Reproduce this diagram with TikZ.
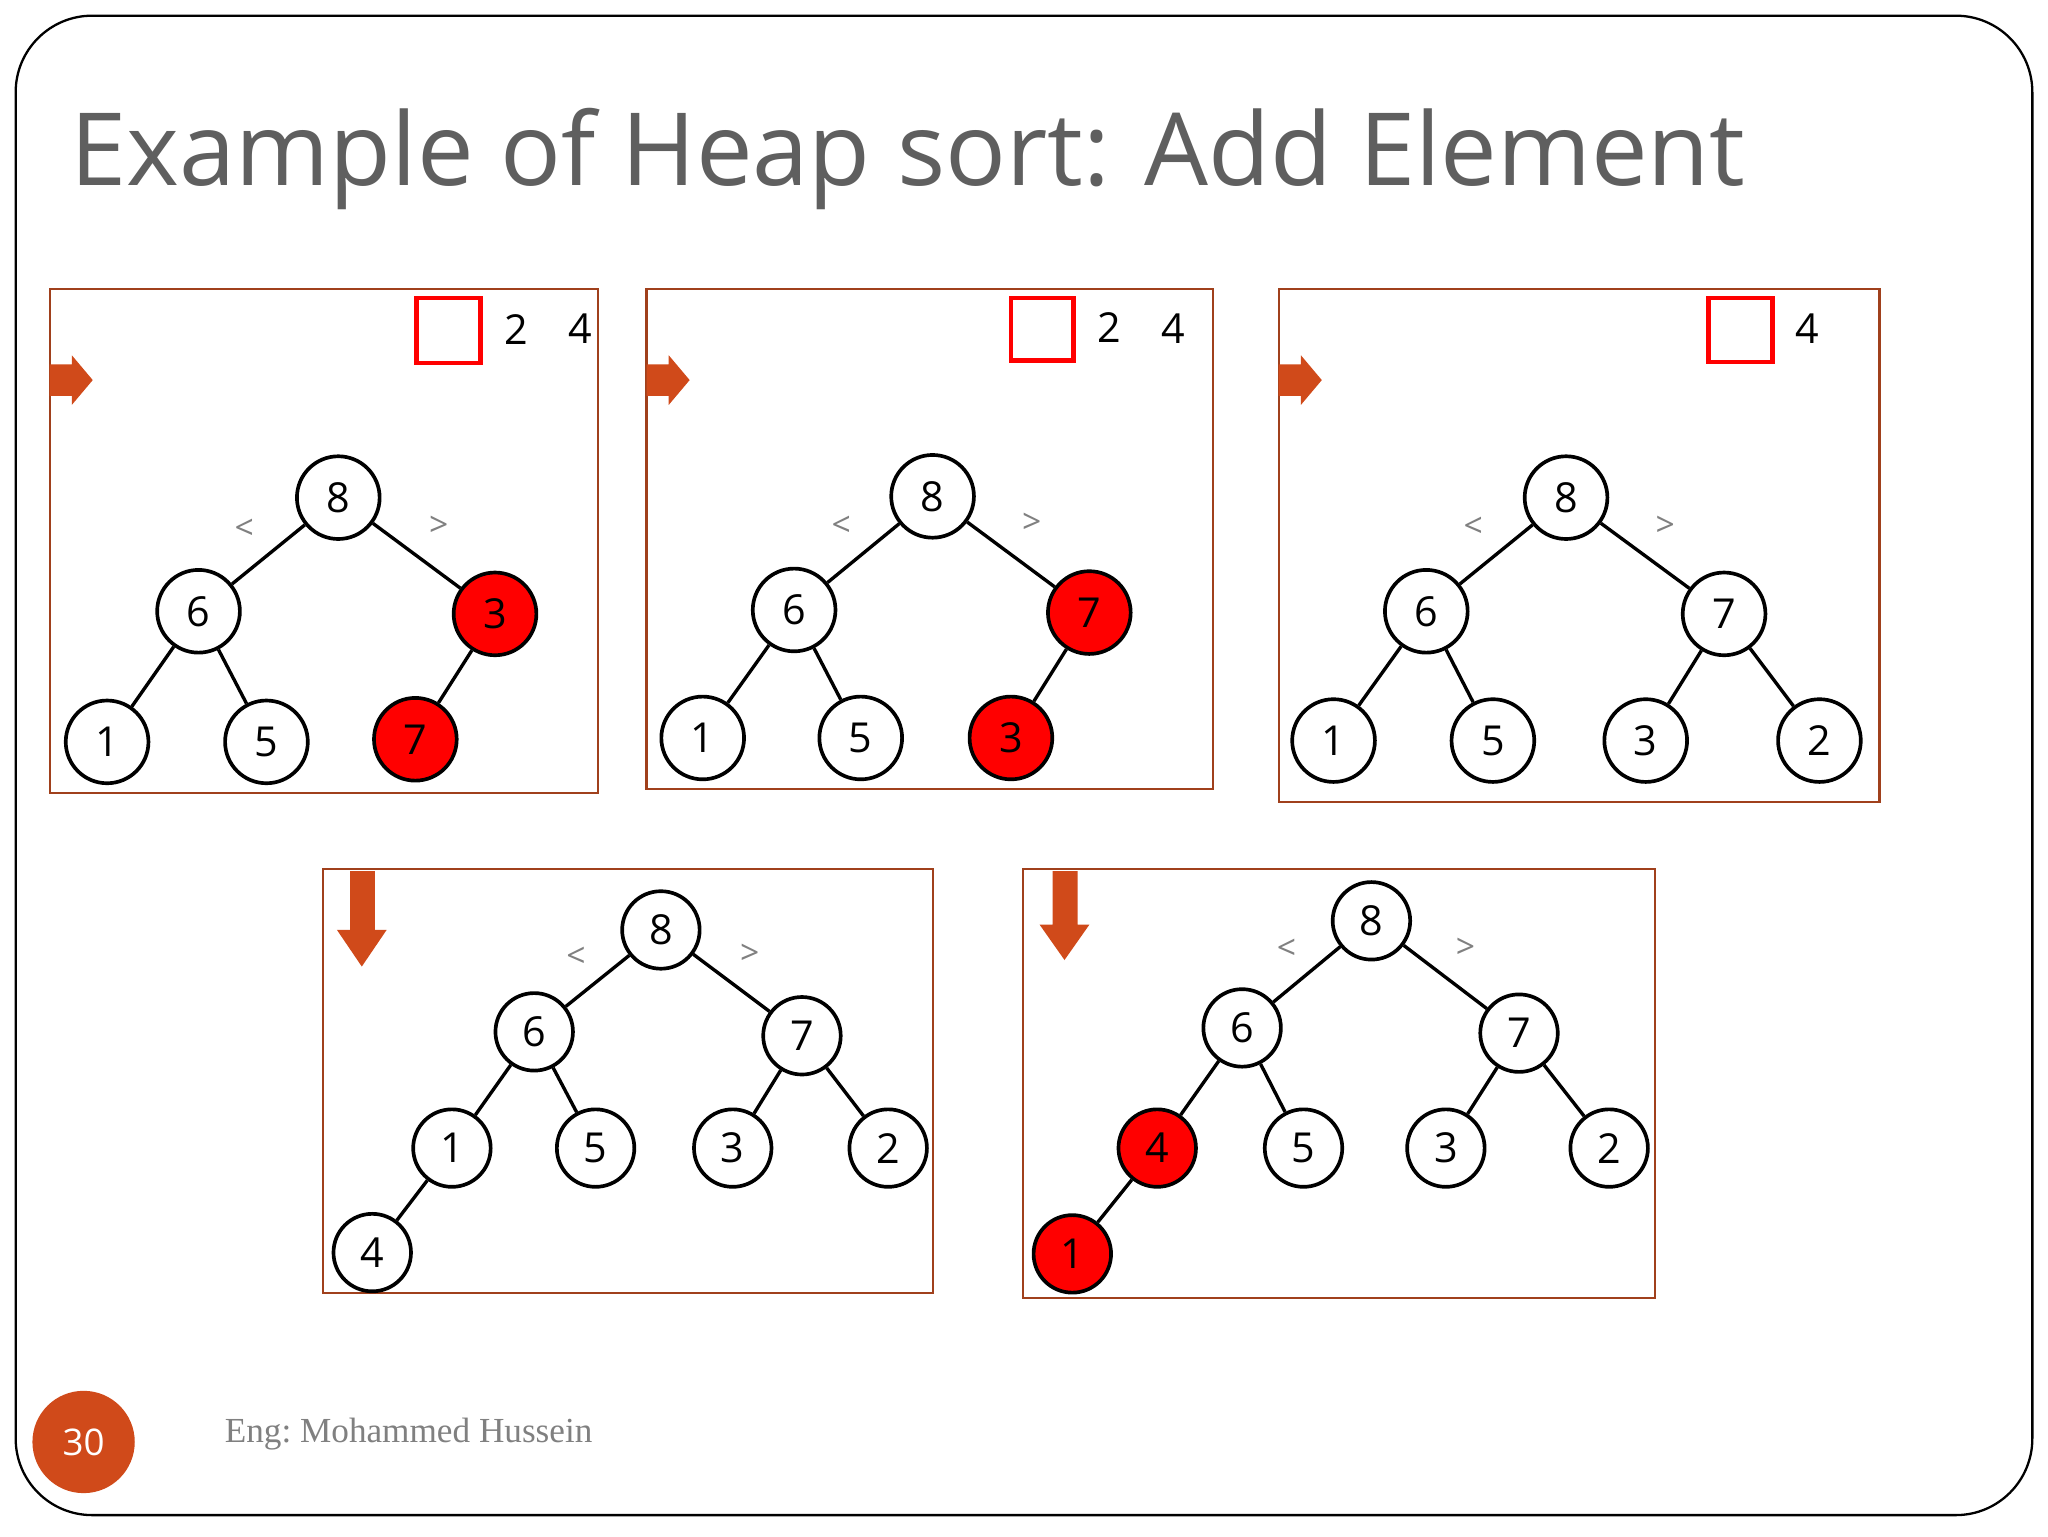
\documentclass[tikz,border=0pt]{standalone}
\usepackage{fontspec}
\setmainfont{Liberation Serif}
\setsansfont{Open Sans}
\definecolor{ora}{HTML}{D04A1A}
\definecolor{pan}{HTML}{A0401C}
\definecolor{tit}{HTML}{5F5F5F}
\begin{document}
\begin{tikzpicture}[x=0.03cm,y=-0.03cm,
 hn/.style={circle,draw=black,line width=2.4pt,fill=white,minimum size=1.9cm,inner sep=0pt,font=\sffamily\fontsize{27}{30}\selectfont},
 hs/.style={hn,minimum size=1.78cm},
 rd/.style={fill=red},
 ed/.style={line width=2.2pt},
 panel/.style={draw=pan,line width=1.4pt},
 sq/.style={draw=red,line width=3pt},
 lab/.style={font=\sffamily\fontsize{27}{30}\selectfont},
 cmp/.style={text=gray,font=\sffamily\fontsize{22}{24}\selectfont},
 arr/.style={fill=ora,draw=none}]
\useasboundingbox (0,0) rectangle (1568,1176);
\fill[white] (0,0) rectangle (1568,1176);
\draw[line width=1.5pt,rounded corners=50] (12,12) rectangle (1556,1160);
\node[anchor=west,text=tit,font=\sffamily\fontsize{66}{70}\selectfont] (title) at (50,122) {Example of Heap sort: Add Element};
% panel 1
\draw[panel] (38,221) rectangle (458,607);
\draw[sq] (319,228) rectangle (368,278);
\node[lab] (p1a) at (395,252) {2}; \node[lab] (p1b) at (444,252) {4};
\fill[arr] (38,279) -- (55,279) -- (55,272) -- (71,291) -- (55,310) -- (55,303) -- (38,303) -- cycle;
\node[hn] (a8) at (259,381) {8}; \node[hn] (a6) at (152,468) {6};
\node[hn,rd] (a3) at (379,470) {3}; \node[hn] (a1) at (82,568) {1};
\node[hn] (a5) at (204,568) {5}; \node[hn,rd] (a7) at (318,566) {7};
\draw[ed] (a8)--(a6) (a8)--(a3) (a6)--(a1) (a6)--(a5) (a3)--(a7);
\node[cmp] (a_l) at (187,405) {<}; \node[cmp] (a_g) at (336,403) {>};
% panel 2
\draw[panel] (495,221) rectangle (929,604);
\draw[sq] (774,228) rectangle (822,276);
\node[lab] (p2a) at (849,251) {2}; \node[lab] (p2b) at (898,252) {4};
\fill[arr] (495,279) -- (512,279) -- (512,272) -- (528,291) -- (512,310) -- (512,303) -- (495,303) -- cycle;
\node[hn] (b8) at (714,380) {8}; \node[hn] (b6) at (608,467) {6};
\node[hn,rd] (b7) at (834,469) {7}; \node[hn] (b1) at (538,565) {1};
\node[hn] (b5) at (659,565) {5}; \node[hn,rd] (b3) at (774,565) {3};
\draw[ed] (b8)--(b6) (b8)--(b7) (b6)--(b1) (b6)--(b5) (b7)--(b3);
\node[cmp] (b_l) at (644,403) {<}; \node[cmp] (b_g) at (790,401) {>};
% panel 3
\draw[panel] (979,221) rectangle (1439,614);
\draw[sq] (1308,228) rectangle (1357,277);
\node[lab] (p3b) at (1384,252) {4};
\fill[arr] (979,279) -- (996,279) -- (996,272) -- (1012,291) -- (996,310) -- (996,303) -- (979,303) -- cycle;
\node[hn] (c8) at (1199,381) {8}; \node[hn] (c6) at (1092,468) {6};
\node[hn] (c7) at (1320,470) {7}; \node[hn] (c1) at (1021,567) {1};
\node[hn] (c5) at (1143,567) {5}; \node[hn] (c3) at (1260,567) {3};
\node[hn] (c2) at (1393,567) {2};
\draw[ed] (c8)--(c6) (c8)--(c7) (c6)--(c1) (c6)--(c5) (c7)--(c3) (c7)--(c2);
\node[cmp] (c_l) at (1128,404) {<}; \node[cmp] (c_g) at (1275,403) {>};
% panel 4
\draw[panel] (247,665) rectangle (714,990);
\fill[arr] (268,667) -- (287,667) -- (287,712) -- (296,712) -- (277,740) -- (258,712) -- (268,712) -- cycle;
\node[hs] (d8) at (506,712) {8}; \node[hs] (d6) at (409,790) {6};
\node[hs] (d7) at (614,793) {7}; \node[hs] (d1) at (346,879) {1};
\node[hs] (d5) at (456,879) {5}; \node[hs] (d3) at (561,879) {3};
\node[hs] (d2) at (680,879) {2}; \node[hs] (d4) at (285,959) {4};
\draw[ed] (d8)--(d6) (d8)--(d7) (d6)--(d1) (d6)--(d5) (d7)--(d3) (d7)--(d2) (d1)--(d4);
\node[cmp] (d_l) at (441,733) {<}; \node[cmp] (d_g) at (574,731) {>};
% panel 5
\draw[panel] (783,665) rectangle (1267,994);
\fill[arr] (806,667) -- (825,667) -- (825,708) -- (834,708) -- (815,735) -- (796,708) -- (806,708) -- cycle;
\node[hs] (e8) at (1050,705) {8}; \node[hs] (e6) at (951,787) {6};
\node[hs] (e7) at (1163,791) {7}; \node[hs,rd] (e4) at (886,879) {4};
\node[hs] (e5) at (998,879) {5}; \node[hs] (e3) at (1107,879) {3};
\node[hs] (e2) at (1232,879) {2}; \node[hs,rd] (e1) at (821,960) {1};
\draw[ed] (e8)--(e6) (e8)--(e7) (e6)--(e4) (e6)--(e5) (e7)--(e3) (e7)--(e2) (e4)--(e1);
\node[cmp] (e_l) at (985,727) {<}; \node[cmp] (e_g) at (1122,726) {>};
% footer
\node[circle,fill=ora,minimum size=2.35cm,text=white,font=\sffamily\fontsize{24}{26}\selectfont] (pg) at (64,1104) {30};
\node[anchor=west,text=gray,font=\fontsize{23}{26}\selectfont] (auth) at (168,1098) {Eng:\ Mohammed Hussein};
\end{tikzpicture}
\end{document}
